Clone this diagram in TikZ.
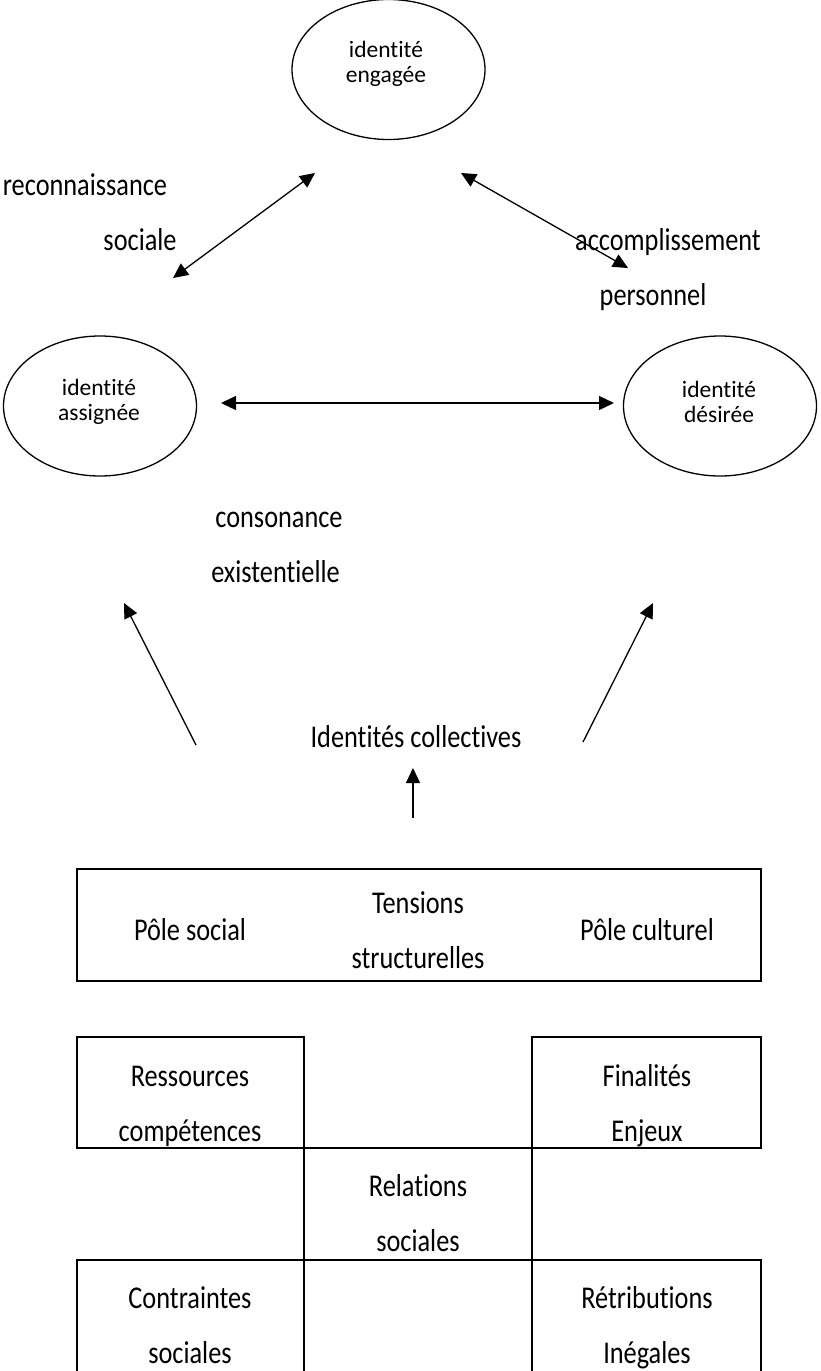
\documentclass[tikz,border=0pt]{standalone}
\usepackage{fontspec}
\setmainfont{Carlito}[Ligatures=NoCommon]
\newfontfamily\narrowfont{Carlito}[FakeStretch=0.83, Ligatures=NoCommon]
\usetikzlibrary{shapes.geometric,arrows.meta}

\begin{document}
\begin{tikzpicture}[
  x=1pt, y=-1pt,
  every node/.style={inner sep=0pt, outer sep=0pt},
  pole/.style={
    draw,
    ellipse,
    line width=1.3pt,
    minimum width=193pt,
    minimum height=140pt,
  },
  poletext/.style={align=center, font=\fontsize{23.5}{25}\selectfont},
  lbl/.style={anchor=base, font=\narrowfont\fontsize{31.7}{55}\selectfont},
  box/.style={draw, line width=1.8pt},
  every path/.style={line width=1.3pt, >={Triangle[length=15pt,width=14pt]}},
  ]
  \useasboundingbox (0,0) rectangle (820,1371);
  % the three identities
  \node[pole] (engagee) at (388.5,69.5) {};
  \node[poletext] (engageetxt) at (386,64) {identité\\engagée};
  \node[pole] (assignee) at (100,406) {};
  \node[poletext] (assigneetxt) at (99,402) {identité\\assignée};
  \node[pole] (desiree) at (720,406) {};
  \node[poletext] (desireetxt) at (719,402) {identité\\désirée};
  \node[lbl] (reco) at (85,195) {reconnaissance};
  \node[lbl] (soc) at (140,250) {sociale};
  \node[lbl] (accomp) at (668,250) {accomplissement};
  \node[lbl] (perso) at (653,305) {personnel};
  \node[lbl] (conso) at (279,527) {consonance};
  \node[lbl] (exist) at (275.5,582) {existentielle};
  \node[lbl] (collect) at (416,747) {Identités collectives};
  \coordinate (r1) at (173,278);
  \coordinate (r2) at (315,173);
  \coordinate (a1) at (461,173);
  \coordinate (a2) at (628,268);
  \coordinate (h1) at (221,403);
  \coordinate (h2) at (614,403);
  \coordinate (l1) at (196,745);
  \coordinate (l2) at (124,603);
  \coordinate (g1) at (583,742);
  \coordinate (g2) at (653,603);
  \coordinate (u1) at (413,818);
  \coordinate (u2) at (413,768);
  \path[<->]
  (r1) edge (r2)
  (a1) edge (a2)
  (h1) edge (h2);
  \path[->]
  (l1) edge (l2)
  (g1) edge (g2)
  (u1) edge (u2);
  % tensions
  \node[box, minimum width=684pt, minimum height=112pt] (tension) at (419,925) {};
  \node[lbl] (psoc) at (190,940) {Pôle social};
  \node[lbl] (tens) at (418,913) {Tensions};
  \node[lbl] (struct) at (418,968) {structurelles};
  \node[lbl] (pcult) at (647,940) {Pôle culturel};
  % grid
  \draw[box] (77,1037) rectangle (304,1148);
  \draw[box] (532,1037) rectangle (761,1148);
  \draw[box] (304,1148) rectangle (532,1260);
  \draw[box] (77,1372) |- (304,1260) -- (304,1372);
  \draw[box] (532,1372) |- (761,1260) -- (761,1372);
  \node[lbl] (ress) at (190,1086) {Ressources};
  \node[lbl] (comp) at (190,1141) {compétences};
  \node[lbl] (final) at (647,1086) {Finalités};
  \node[lbl] (enjeux) at (647,1141) {Enjeux};
  \node[lbl] (rel) at (418,1196) {Relations};
  \node[lbl] (relsoc) at (418,1251) {sociales};
  \node[lbl] (contr) at (190,1308) {Contraintes};
  \node[lbl] (contrsoc) at (190,1363) {sociales};
  \node[lbl] (retrib) at (647,1308) {Rétributions};
  \node[lbl] (ineg) at (647,1363) {Inégales};
\end{tikzpicture}
\end{document}
